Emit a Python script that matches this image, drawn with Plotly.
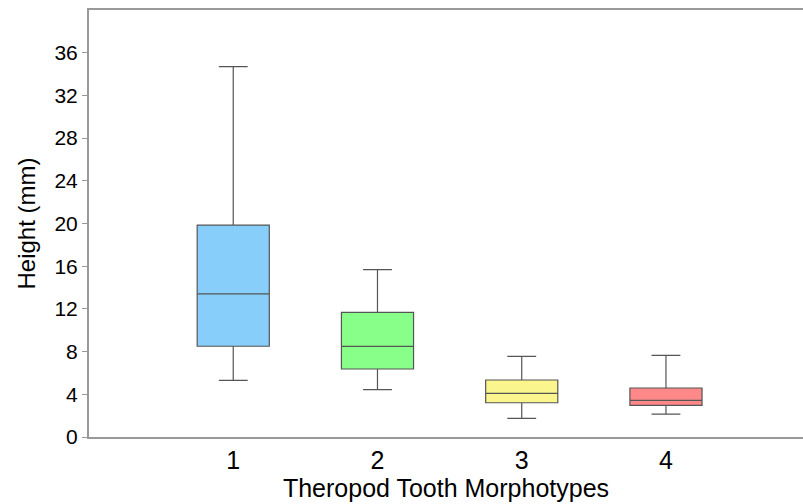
import plotly.graph_objects as go

categories = [1, 2, 3, 4]
tick_labels = ["1", "2", "3", "4"]
lower_whisker = [5.3, 4.43, 1.75, 2.15]
q1_vals = [8.5, 6.37, 3.21, 2.97]
median_vals = [13.4, 8.49, 4.09, 3.43]
q3_vals = [19.85, 11.67, 5.34, 4.59]
upper_whisker = [34.7, 15.67, 7.55, 7.65]
colors = ["#87CEFA", "#88FF88", "#FAF58C", "#FF8888"]

fig = go.Figure()
for i, c in enumerate(categories):
    fig.add_trace(go.Box(
        x=[c], q1=[q1_vals[i]], median=[median_vals[i]], q3=[q3_vals[i]],
        lowerfence=[lower_whisker[i]], upperfence=[upper_whisker[i]],
        fillcolor=colors[i], line=dict(color="#555555", width=1.2),
        width=0.5, whiskerwidth=0.4, showlegend=False, boxpoints=False,
    ))

fig.update_layout(
    width=803, height=504,
    margin=dict(l=89, r=0, t=10, b=67),
    plot_bgcolor="white", paper_bgcolor="white",
    font=dict(family="Liberation Sans, Arial", color="black"),
    xaxis=dict(
        range=[0, 4.95], tickvals=categories, ticktext=tick_labels,
        showline=True, linecolor="#999999", linewidth=2, mirror=True,
        showgrid=False, zeroline=False, ticks="",
        tickfont=dict(size=25),
        title=dict(text="Theropod Tooth Morphotypes", font=dict(size=25), standoff=4),
    ),
    yaxis=dict(
        range=[0, 40], tickvals=[0, 4, 8, 12, 16, 20, 24, 28, 32, 36],
        showline=True, linecolor="#999999", linewidth=2,
        showgrid=False, zeroline=False, ticks="outside", ticklen=5,
        tickcolor="#999999", tickfont=dict(size=21),
        title=dict(text="Height (mm)", font=dict(size=24), standoff=12),
    ),
)

fig.write_html("out.html")
